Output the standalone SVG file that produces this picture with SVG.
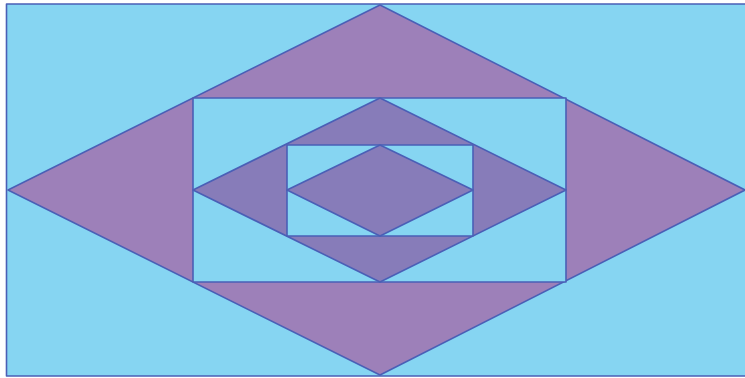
<svg xmlns="http://www.w3.org/2000/svg" width="745" height="378" viewBox="0 0 745 378">
<style>
.s{stroke:#4a5fb6;stroke-width:1.6;stroke-linejoin:round}
.b{fill:#86d5f2}
.p{fill:#9d80b9}
.d{fill:#877cb9}
</style>
<rect width="745" height="378" fill="#ffffff"/>
<g id="outer-rect"><rect class="s b" x="6.5" y="4" width="747" height="372" stroke-width="3"/></g>
<g id="outer-diamond"><polygon class="s p" points="8,190 380,5 745,190 380,375"/></g>
<g id="middle-rect"><rect class="s b" x="193" y="98" width="373" height="184"/></g>
<g id="middle-diamond"><polygon class="s d" points="193,190 380,98 566,190 380,282"/></g>
<g id="inner-rect"><rect class="s b" x="287" y="145" width="186" height="91"/></g>
<g id="inner-diamond"><polygon class="s d" points="287,190 380,145 473,190 380,236"/></g>
<g id="connectors"></g>
</svg>
